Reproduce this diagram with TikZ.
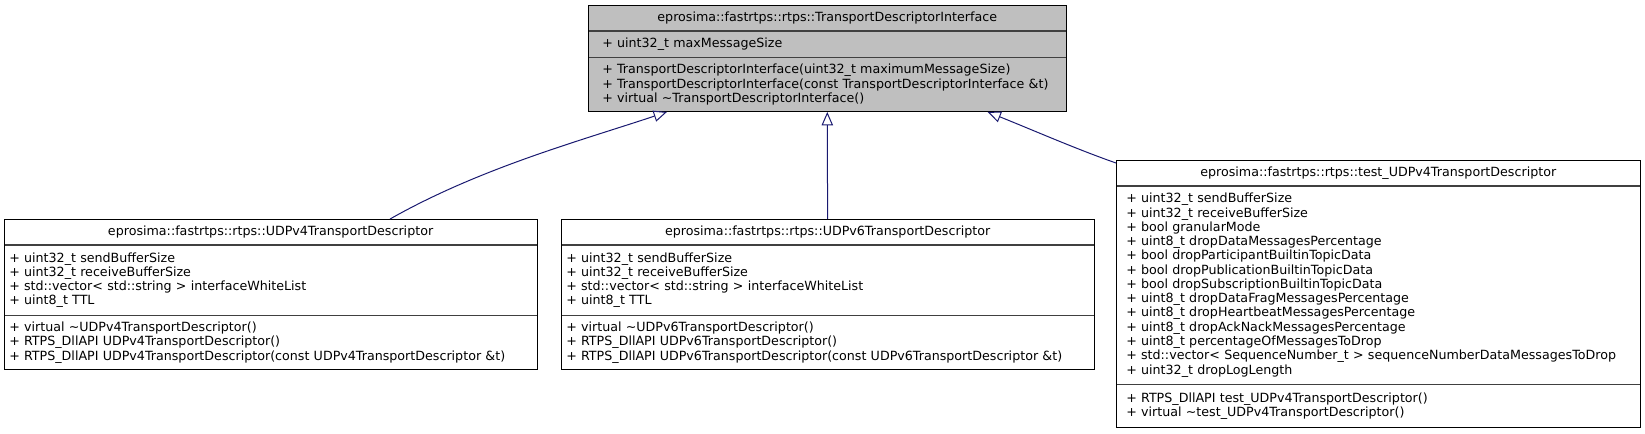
\documentclass[tikz,border=0pt]{standalone}
\usepackage{fontspec}
\setmainfont{DejaVu Sans}
\usetikzlibrary{arrows.meta,calc,positioning}
\definecolor{edgeblue}{HTML}{191970}
\definecolor{basegray}{HTML}{BFBFBF}
\definecolor{sepgray}{HTML}{404040}
\tikzset{
  headbox/.style   = {inner sep=0pt, minimum height=19pt, align=center,
                      text width=#1, font=\fontsize{9.5}{10.7}\selectfont},
  memberbox/.style 2 args = {inner xsep=#2, inner ysep=0pt, align=left,
                      text width=#1, font=\fontsize{9.5}{10.7}\selectfont},
  outline/.style   = {draw=black, line width=0.75pt},
  sep/.style       = {draw=sepgray, line width=1pt},
  inherit/.style   = {edgeblue, line width=0.75pt, -{Triangle[open, length=10pt, width=8.5pt]}},
}

\begin{document}
\begin{tikzpicture}[x=0.75pt,y=-0.75pt]
  \useasboundingbox (0,0) rectangle (1645,433);
  % base class
  \node[headbox=358.5pt, fill=basegray, anchor=north west] (tdi-head) at (588,5)
    {eprosima::fastrtps::rtps::TransportDescriptorInterface};
  \node[memberbox={337.5pt}{10.5pt}, fill=basegray, minimum height=19.5pt, below=0pt of tdi-head] (tdi-attr)
    {+ uint32\_t maxMessageSize};
  \node[memberbox={337.5pt}{10.5pt}, fill=basegray, minimum height=40.5pt, below=0pt of tdi-attr] (tdi-ops)
    {+ TransportDescriptorInterface(uint32\_t maximumMessageSize)\\
     + TransportDescriptorInterface(const TransportDescriptorInterface \&t)\\
     + virtual \textasciitilde TransportDescriptorInterface()};
  \draw[sep] (tdi-head.south west) -- (tdi-head.south east);
  \draw[sep] (tdi-attr.south west) -- (tdi-attr.south east);
  \draw[outline] (tdi-head.north west) rectangle (tdi-ops.south east);

  % UDPv4 / UDPv6 descriptors
  \foreach \n/\x in {4/4, 6/561}{
    \node[headbox=399.5pt, anchor=north west] (udp\n-head) at (\x,219)
      {eprosima::fastrtps::rtps::UDPv\n TransportDescriptor};
    \node[memberbox={392pt}{3.75pt}, minimum height=52.5pt, below=0pt of udp\n-head] (udp\n-attr)
      {+ uint32\_t sendBufferSize\\
       + uint32\_t receiveBufferSize\\
       + std::vector< std::string > interfaceWhiteList\\
       + uint8\_t TTL};
    \node[memberbox={392pt}{3.75pt}, minimum height=40.5pt, below=0pt of udp\n-attr] (udp\n-ops)
      {+ virtual \textasciitilde UDPv\n TransportDescriptor()\\
       + RTPS\_DllAPI UDPv\n TransportDescriptor()\\
       + RTPS\_DllAPI UDPv\n TransportDescriptor(const UDPv\n TransportDescriptor \&t)};
    \draw[sep] (udp\n-head.south west) -- (udp\n-head.south east);
    \draw[sep] (udp\n-attr.south west) -- (udp\n-attr.south east);
    \draw[outline] (udp\n-head.north west) rectangle (udp\n-ops.south east);
  }

  % test descriptor
  \node[headbox=393pt, anchor=north west] (test-head) at (1116,160)
    {eprosima::fastrtps::rtps::test\_UDPv4TransportDescriptor};
  \node[memberbox={378pt}{7.5pt}, minimum height=148.5pt, below=0pt of test-head] (test-attr)
    {+ uint32\_t sendBufferSize\\
     + uint32\_t receiveBufferSize\\
     + bool granularMode\\
     + uint8\_t dropDataMessagesPercentage\\
     + bool dropParticipantBuiltinTopicData\\
     + bool dropPublicationBuiltinTopicData\\
     + bool dropSubscriptionBuiltinTopicData\\
     + uint8\_t dropDataFragMessagesPercentage\\
     + uint8\_t dropHeartbeatMessagesPercentage\\
     + uint8\_t dropAckNackMessagesPercentage\\
     + uint8\_t percentageOfMessagesToDrop\\
     + std::vector< SequenceNumber\_t > sequenceNumberDataMessagesToDrop\\
     + uint32\_t dropLogLength};
  \node[memberbox={378pt}{7.5pt}, minimum height=32.25pt, below=0pt of test-attr] (test-ops)
    {+ RTPS\_DllAPI test\_UDPv4TransportDescriptor()\\
     + virtual \textasciitilde test\_UDPv4TransportDescriptor()};
  \draw[sep] (test-head.south west) -- (test-head.south east);
  \draw[sep] (test-attr.south west) -- (test-attr.south east);
  \draw[outline] (test-head.north west) rectangle (test-ops.south east);

  % inheritance
  \draw[inherit] ($(udp4-head.north west)!0.724!(udp4-head.north east)$)
    .. controls +(90,-51) and +(-87,29) .. ($(tdi-ops.south west)!0.165!(tdi-ops.south east)$);
  \draw[inherit] (udp6-head.north) -- (tdi-ops.south);
  \draw[inherit] ([yshift=-2.25pt]test-head.north west)
    .. controls +(-40,-14) and +(45,18) .. ($(tdi-ops.south west)!0.835!(tdi-ops.south east)$);
\end{tikzpicture}
\end{document}
